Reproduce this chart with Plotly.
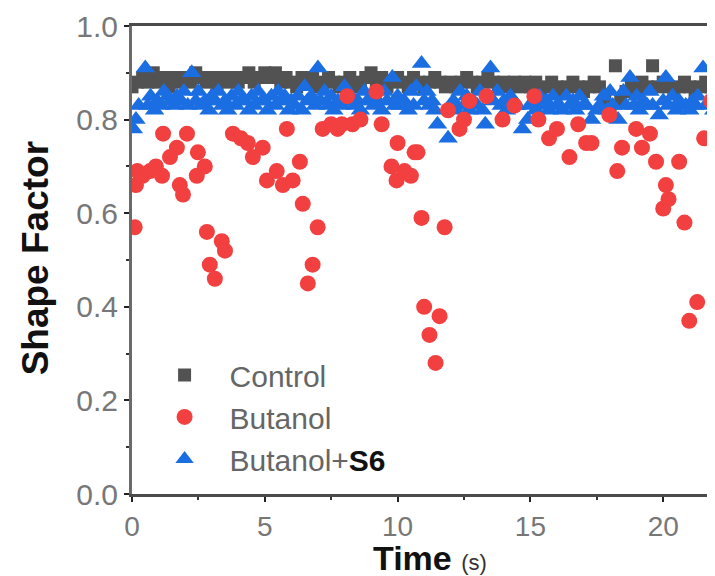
import plotly.graph_objects as go

# ---- data ----
control_t = [0.0, 0.2, 0.4, 0.6, 0.8, 1.0, 1.2, 1.4, 1.6, 1.8,
             2.0, 2.2, 2.4, 2.6, 2.8, 3.0, 3.2, 3.4, 3.6, 3.8,
             4.0, 4.2, 4.4, 4.6, 4.8, 5.0, 5.2, 5.4, 5.6, 5.8,
             6.0, 6.2, 6.4, 6.6, 6.8, 7.0, 7.2, 7.4, 7.6, 7.8,
             8.0, 8.2, 8.4, 8.6, 8.8, 9.0, 9.2, 9.4, 9.6, 9.8,
             10.0, 10.2, 10.4, 10.6, 10.8, 11.0, 11.2, 11.4, 11.6, 11.8,
             12.0, 12.2, 12.4, 12.6, 12.8, 13.0, 13.2, 13.4, 13.6, 13.8,
             14.0, 14.2, 14.4, 14.6, 14.8, 15.0, 15.2, 15.4, 15.6, 15.8,
             16.0, 16.2, 16.4, 16.6, 16.8, 17.0, 17.2, 17.4, 17.6, 17.8,
             18.0, 18.2, 18.4, 18.6, 18.8, 19.0, 19.2, 19.4, 19.6, 19.8,
             20.0, 20.2, 20.4, 20.6, 20.8, 21.0, 21.2, 21.4, 21.6, 21.8,
             22.0]
control_v = [0.87, 0.88, 0.89, 0.88, 0.90, 0.88, 0.89, 0.87, 0.89, 0.88,
             0.89, 0.88, 0.90, 0.89, 0.88, 0.89, 0.87, 0.89, 0.88, 0.89,
             0.88, 0.89, 0.90, 0.88, 0.89, 0.90, 0.89, 0.90, 0.88, 0.89,
             0.88, 0.87, 0.89, 0.88, 0.89, 0.87, 0.88, 0.89, 0.88, 0.87,
             0.88, 0.89, 0.87, 0.88, 0.89, 0.90, 0.88, 0.89, 0.87, 0.88,
             0.89, 0.88, 0.87, 0.89, 0.88, 0.87, 0.88, 0.89, 0.88, 0.87,
             0.88, 0.87, 0.88, 0.89, 0.88, 0.87, 0.88, 0.89, 0.88, 0.87,
             0.88, 0.87, 0.88, 0.87, 0.88, 0.87, 0.88, 0.86, 0.87, 0.88,
             0.87, 0.86, 0.87, 0.88, 0.87, 0.86, 0.87, 0.88, 0.87, 0.84,
             0.83, 0.915, 0.84, 0.86, 0.87, 0.86, 0.88, 0.87, 0.915, 0.87,
             0.88, 0.87, 0.86, 0.87, 0.88, 0.87, 0.86, 0.87, 0.88, 0.87,
             0.88]

butanol_t = [0.1, 0.15, 0.2, 0.4, 0.68, 0.9, 1.13, 1.17, 1.43, 1.69, 1.8, 1.92, 2.07, 2.44, 2.48, 2.74,
             2.82, 2.93, 3.12, 3.38, 3.5, 3.8, 4.1, 4.36, 4.55, 4.92, 5.08, 5.45, 5.68, 5.83, 6.05,
             6.32, 6.43, 6.62, 6.8, 6.99, 7.18, 7.5, 7.74, 7.9, 8.1, 8.3, 8.6, 9.2, 9.4, 9.77, 9.96,
             10.0, 10.26, 10.5, 10.64, 10.75, 10.9, 11.0, 11.2, 11.43, 11.58, 11.77, 11.9, 12.33, 12.5,
             12.7, 13.35, 13.95, 14.4, 15.15, 15.3, 15.7, 16.0, 16.47, 16.8, 17.1, 17.3, 17.97, 18.27,
             18.45, 18.98, 19.2, 19.5, 19.73, 20.0, 20.1, 20.2, 20.6, 20.8, 20.98, 21.28, 21.54, 21.8]
butanol_v = [0.57, 0.66, 0.69, 0.68, 0.69, 0.70, 0.68, 0.77, 0.72, 0.74, 0.66, 0.64, 0.77, 0.68, 0.73, 0.70,
             0.56, 0.49, 0.46, 0.54, 0.52, 0.77, 0.76, 0.75, 0.72, 0.74, 0.67, 0.69, 0.66, 0.78, 0.67,
             0.71, 0.62, 0.45, 0.49, 0.57, 0.78, 0.79, 0.78, 0.79, 0.85, 0.79, 0.80, 0.86, 0.79, 0.70, 0.67,
             0.75, 0.69, 0.68, 0.73, 0.73, 0.59, 0.40, 0.34, 0.28, 0.38, 0.57, 0.82, 0.78, 0.80,
             0.84, 0.85, 0.80, 0.83, 0.85, 0.80, 0.76, 0.78, 0.72, 0.79, 0.75, 0.75, 0.81, 0.69,
             0.74, 0.78, 0.74, 0.77, 0.71, 0.61, 0.66, 0.63, 0.71, 0.58, 0.37, 0.41, 0.76, 0.84]

s6_t = [0.05, 0.15, 0.25, 0.5, 0.6, 0.7, 0.85, 0.95, 1.1, 1.2, 1.35, 1.45, 1.6, 1.7, 1.85, 1.95,
        2.1, 2.25, 2.4, 2.5, 2.6, 2.75, 2.9, 3.0, 3.1, 3.25, 3.4, 3.5, 3.6, 3.75, 3.9,
        4.0, 4.1, 4.25, 4.4, 4.5, 4.6, 4.75, 4.9, 5.0, 5.1, 5.25, 5.4, 5.5, 5.6, 5.75, 5.9,
        6.0, 6.1, 6.25, 6.4, 6.5, 6.6, 6.75, 6.9, 7.0, 7.1, 7.25, 7.4, 7.5, 7.6, 7.75, 7.9,
        8.0, 8.1, 8.25, 8.4, 8.5, 8.6, 8.75, 8.9, 9.0, 9.1, 9.25, 9.4, 9.5, 9.6, 9.8, 9.9,
        10.0, 10.1, 10.25, 10.4, 10.5, 10.6, 10.7, 10.9, 11.0, 11.1, 11.2, 11.3, 11.4, 11.5, 11.9,
        12.0, 12.1, 12.2, 12.35, 12.5, 12.6, 12.7, 12.85, 13.0, 13.1, 13.2, 13.3, 13.5, 13.6,
        13.75, 13.9, 14.0, 14.1, 14.25, 14.4, 14.5, 14.7, 14.9, 15.0, 15.1, 15.2, 15.35, 15.5,
        15.6, 15.7, 15.85, 16.0, 16.1, 16.2, 16.35, 16.5, 16.6, 16.7, 16.85, 17.0, 17.1, 17.3,
        17.5, 17.6, 17.75, 17.9, 18.0, 18.1, 18.3, 18.5, 18.6, 18.75, 18.9, 19.0, 19.1, 19.25,
        19.4, 19.5, 19.6, 19.85, 20.0, 20.1, 20.2, 20.35, 20.5, 20.6, 20.7, 20.85, 21.0, 21.1,
        21.2, 21.3, 21.5, 21.6, 21.75, 21.9, 22.0]
s6_v = [0.78, 0.80, 0.83, 0.91, 0.83, 0.85, 0.82, 0.84, 0.83, 0.86, 0.85, 0.84, 0.83, 0.85, 0.84, 0.86,
        0.83, 0.90, 0.84, 0.86, 0.83, 0.84, 0.82, 0.85, 0.84, 0.86, 0.83, 0.84, 0.82, 0.85, 0.83,
        0.86, 0.84, 0.84, 0.82, 0.85, 0.83, 0.86, 0.84, 0.84, 0.82, 0.85, 0.83, 0.86, 0.84, 0.85, 0.82,
        0.84, 0.83, 0.85, 0.82, 0.87, 0.84, 0.85, 0.83, 0.91, 0.84, 0.86, 0.83, 0.85, 0.82, 0.84, 0.83,
        0.87, 0.84, 0.85, 0.83, 0.84, 0.82, 0.86, 0.84, 0.85, 0.83, 0.84, 0.82, 0.86, 0.84, 0.89, 0.83,
        0.85, 0.83, 0.84, 0.82, 0.86, 0.83, 0.87, 0.92, 0.84, 0.86, 0.83, 0.84, 0.82, 0.79, 0.76,
        0.83, 0.84, 0.82, 0.86, 0.83, 0.85, 0.82, 0.84, 0.83, 0.86, 0.82, 0.79, 0.91, 0.84,
        0.86, 0.83, 0.84, 0.82, 0.85, 0.83, 0.83, 0.78, 0.80, 0.83, 0.84, 0.82, 0.85, 0.83,
        0.84, 0.82, 0.85, 0.83, 0.83, 0.82, 0.85, 0.83, 0.84, 0.82, 0.85, 0.83, 0.83, 0.80,
        0.82, 0.83, 0.85, 0.82, 0.86, 0.83, 0.80, 0.86, 0.83, 0.89, 0.83, 0.85, 0.82, 0.84,
        0.83, 0.86, 0.83, 0.81, 0.84, 0.89, 0.83, 0.85, 0.82, 0.84, 0.83, 0.83, 0.82, 0.84,
        0.83, 0.85, 0.91, 0.83, 0.84, 0.82, 0.85]

x_ticks = [0, 5, 10, 15, 20]
y_ticks = [0.0, 0.2, 0.4, 0.6, 0.8, 1.0]

FONT = "Arial, Liberation Sans, sans-serif"
GRAY = "#525252"
RED = "#f23f3f"
BLUE = "#1b6ee2"

fig = go.Figure()
fig.add_trace(go.Scatter(x=control_t, y=control_v, mode="markers", name="Control", legendrank=1,
                         marker=dict(symbol="square", size=13, color=GRAY)))
fig.add_trace(go.Scatter(x=s6_t, y=s6_v, mode="markers",
                         name="Butanol+<span style='color:#111111'><b>S6</b></span>", legendrank=3,
                         marker=dict(symbol="triangle-up", size=17, color=BLUE)))
fig.add_trace(go.Scatter(x=butanol_t, y=butanol_v, mode="markers", name="Butanol", legendrank=2,
                         marker=dict(symbol="circle", size=16, color=RED)))

# page has an 8px body margin: figure is 707x568 placed at (8,8)
fig.update_layout(
    width=707, height=568,
    margin=dict(l=124, r=0, t=18, b=82),
    paper_bgcolor="white", plot_bgcolor="white",
    font=dict(family=FONT, color="#777777", size=29),
    showlegend=True,
    legend=dict(x=0.013, xanchor="left", y=0.31, yanchor="top",
                font=dict(size=30, color="#666666"), itemwidth=80,
                bgcolor="rgba(0,0,0,0)", tracegroupgap=0),
    xaxis=dict(range=[0, 21.95], tickvals=x_ticks, ticktext=[str(v) for v in x_ticks],
               automargin=False,
               showgrid=False, zeroline=False, showline=True, linecolor="#4a4a4a", linewidth=3,
               mirror=True, ticks="outside", ticklen=5, tickwidth=2, tickcolor="#222222",
               minor=dict(dtick=2.5, ticks="outside", ticklen=3, tickwidth=2, tickcolor="#333333"),
               tickfont=dict(size=28, color="#777777")),
    yaxis=dict(range=[0, 1.0], tickvals=y_ticks, ticktext=["%.1f" % v for v in y_ticks],
               automargin=False,
               showgrid=False, zeroline=False, showline=True, linecolor="#6a6a6a", linewidth=3,
               ticks="outside", ticklen=5, tickwidth=2, tickcolor="#222222",
               minor=dict(dtick=0.1, ticks="outside", ticklen=3, tickwidth=2, tickcolor="#333333"),
               tickfont=dict(size=30, color="#777777")),
    annotations=[
        dict(text="<b>Time</b> <span style='font-size:22px;color:#333333'>(s)</span>",
             xref="paper", yref="paper", x=0.511, y=-0.136, xanchor="center", yanchor="middle",
             showarrow=False, font=dict(size=34, color="#111111", family=FONT)),
        dict(text="<b>Shape Factor</b>", xref="paper", yref="paper", x=-0.166, y=0.504,
             xanchor="center", yanchor="middle", textangle=-90, showarrow=False,
             font=dict(size=37, color="#111111", family=FONT)),
    ],
)

fig.write_html("out.html")
